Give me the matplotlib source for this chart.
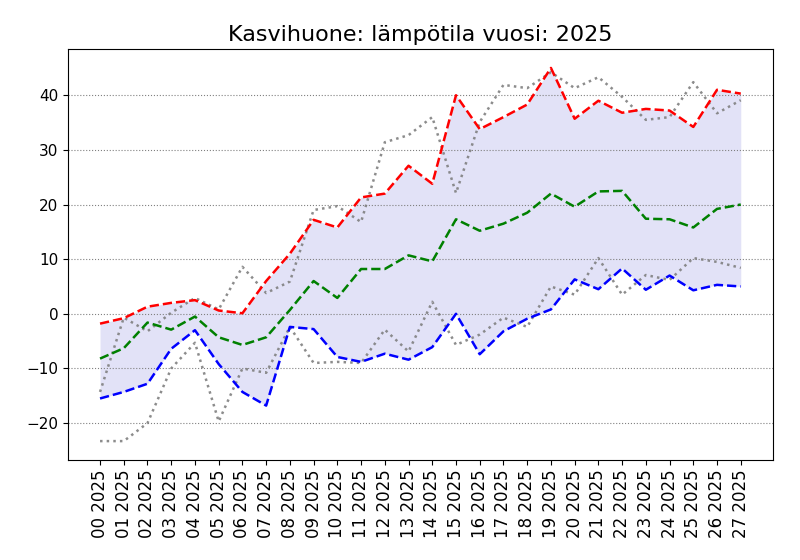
import numpy as np
import matplotlib
matplotlib.use('Agg')
import matplotlib.pyplot as plt

# viikot
viikot = ["%02d 2025" % i for i in range(28)]

# tämä vuosi
maksimi = [-1.8, -0.8, 1.3, 2.0, 2.5, 0.6, 0.1, 6.0, 11.0, 17.2, 15.8, 21.3, 22.0, 27.1,
           23.8, 40.0, 33.8, 36.0, 38.3, 45.0, 35.7, 39.0, 36.8, 37.5, 37.2, 34.2, 41.0, 40.3]
keski = [-8.2, -6.3, -1.6, -2.9, -0.5, -4.3, -5.7, -4.3, 0.7, 6.0, 2.9, 8.2, 8.2, 10.7,
         9.6, 17.3, 15.2, 16.5, 18.5, 22.0, 19.6, 22.4, 22.5, 17.4, 17.3, 15.8, 19.2, 20.0]
minimi = [-15.5, -14.3, -12.8, -6.4, -3.0, -9.2, -14.3, -16.8, -2.4, -2.8, -7.9, -8.8, -7.3, -8.4,
          -6.1, 0.0, -7.4, -3.2, -0.9, 0.8, 6.3, 4.5, 8.3, 4.4, 7.0, 4.3, 5.3, 5.0]

# edellinen vuosi
ed_maksimi = [-14.3, -0.7, -3.2, 0.2, 2.9, 0.8, 8.6, 3.8, 5.9, 19.0, 19.7, 16.8, 31.4, 32.7,
              36.0, 22.1, 35.1, 41.9, 41.3, 44.2, 41.3, 43.3, 39.7, 35.5, 36.0, 42.4, 36.7, 39.1]
ed_minimi = [-23.3, -23.3, -20.0, -10.0, -5.3, -19.7, -10.0, -10.8, -2.4, -9.0, -8.8, -9.0, -2.9, -6.9,
             2.2, -5.7, -3.8, -0.7, -2.4, 5.0, 3.5, 10.2, 3.5, 7.1, 6.2, 10.2, 9.5, 8.4]

x = np.arange(len(viikot))

fig, ax = plt.subplots(figsize=(8, 5.6), dpi=100)
ax.fill_between(x, minimi, maksimi, color='#e2e2f7', linewidth=0)
ax.plot(x, ed_maksimi, color='grey', linestyle=':', linewidth=1.8, alpha=0.9)
ax.plot(x, ed_minimi, color='grey', linestyle=':', linewidth=1.8, alpha=0.9)
ax.plot(x, maksimi, 'r--', linewidth=1.8)
ax.plot(x, keski, 'g--', linewidth=1.8)
ax.plot(x, minimi, 'b--', linewidth=1.8)

ax.set_xticks(x)
ax.set_xticklabels(viikot, rotation=90, fontsize=12)
ax.tick_params(axis='y', labelsize=11)
ax.grid(axis='y', color='grey', linestyle=':', linewidth=0.8)
ax.set_title("Kasvihuone: lämpötila vuosi: 2025", fontsize=16)

plt.subplots_adjust(left=0.085, right=0.966, top=0.912, bottom=0.179)
fig.savefig('out.png')
